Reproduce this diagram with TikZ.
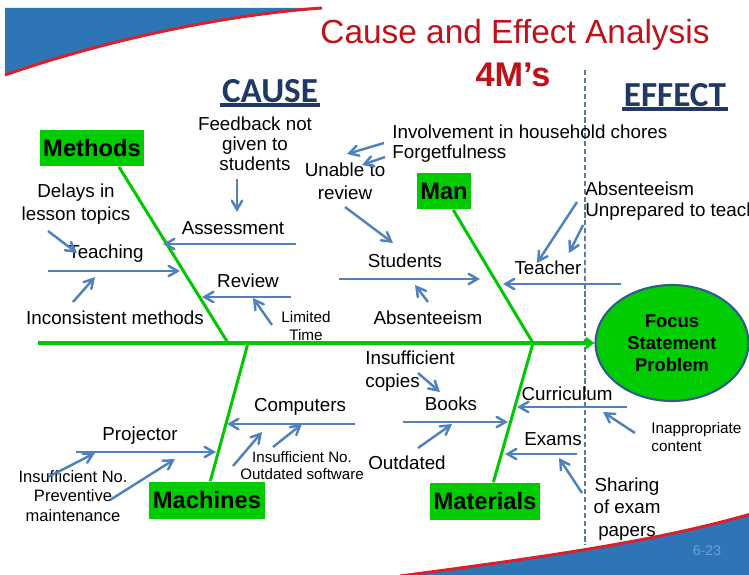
\documentclass[tikz,border=0pt]{standalone}
\usepackage{fontspec}
\setmainfont{Liberation Sans}
\newfontfamily\headfont{Carlito}
\usepackage{xcolor}
\usepackage{tikz}
\usetikzlibrary{arrows,arrows.meta,shapes.geometric}

\definecolor{bonegreen}{RGB}{0,200,0}
\definecolor{boxgreen}{RGB}{0,204,0}
\definecolor{arrowblue}{RGB}{79,129,189}
\definecolor{titlered}{RGB}{192,16,24}
\definecolor{headnavy}{RGB}{31,56,100}
\definecolor{swooshblue}{RGB}{46,117,182}
\definecolor{swooshred}{RGB}{218,32,44}
\definecolor{dashblue}{RGB}{90,120,160}
\definecolor{focusblue}{RGB}{50,90,140}
\definecolor{pagegray}{RGB}{110,160,210}

\begin{document}
\begin{tikzpicture}[
    x=0.02cm, y=-0.02cm,
    lbl/.style={font=\fontsize{10.7}{13}\selectfont, inner sep=0pt, align=center},
    small/.style={font=\fontsize{8.7}{10.2}\selectfont, inner sep=0pt, align=center},
    cat/.style={rectangle, fill=boxgreen, font=\bfseries\fontsize{13.5}{16}\selectfont, inner xsep=2pt, minimum height=0.74cm},
    head/.style={font=\headfont\bfseries\fontsize{20}{24}\selectfont, text=headnavy, inner sep=1pt},
    bone/.style={draw=bonegreen, line width=1.7pt},
    arrow/.style={->, >=angle 60, draw=arrowblue, line width=1.4pt}
]
    \useasboundingbox (0,0) rectangle (749,574);

    % Slide decoration
    \fill[swooshblue] (5,8) -- (322,8) .. controls (220,15) and (100,42) .. (5,75) -- cycle;
    \draw[swooshred, line width=1.7pt] (5,75) .. controls (100,42) and (220,15) .. (322,8);
    \fill[swooshblue] (400,576) .. controls (560,555) and (660,540) .. (751,514) -- (751,576) -- cycle;
    \draw[swooshred, line width=1.7pt] (400,576) .. controls (560,555) and (660,540) .. (751,514);
    \node[font=\fontsize{8}{10}\selectfont, text=pagegray] (pagenum) at (707,551) {6-23};

    % Headings
    \node[font=\fontsize{19}{22}\selectfont, text=titlered] (title) at (515,35) {Cause and Effect Analysis};
    \node[font=\bfseries\fontsize{19.5}{22}\selectfont, text=titlered] (fourm) at (513,75) {4M’s};
    \node[head] (cause) at (270,91) {CAUSE};
    \node[head] (effect) at (675,95) {EFFECT};
    \draw[headnavy, line width=2pt] (cause.south west) -- (cause.south east);
    \draw[headnavy, line width=2pt] (effect.south west) -- (effect.south east);

    % Cause / effect divider
    \coordinate (divtop) at (585,70);
    \coordinate (divbot) at (585,545);
    \draw[dashblue, line width=0.6pt, dash pattern=on 3pt off 1.5pt] (divtop) -- (divbot);

    % Head and spine
    \node[ellipse, fill=boxgreen, draw=focusblue, line width=1.2pt, minimum width=3.06cm, minimum height=2.32cm,
          align=center, font=\bfseries\fontsize{10.5}{12.5}\selectfont] (focus) at (672,343) {Focus\\Statement\\Problem};
    \coordinate (tail) at (38,343);
    \draw[bonegreen, line width=2.3pt, -{Triangle[length=5pt,width=7pt]}] (tail) -- (focus);

    % Categories
    \node[cat] (methods) at (92,148) {Methods};
    \node[cat] (man) at (444,191) {Man};
    \node[cat] (machines) at (207,500) {Machines};
    \node[cat] (materials) at (485,501) {Materials};

    \coordinate (jmeth) at (228,343);
    \coordinate (jman) at (533,343);
    \coordinate (jmach) at (248,343);
    \draw[bone] (methods.325) -- (jmeth);
    \draw[bone] (man.296) -- (jman);
    \draw[bone] (jmach) -- (machines.80);
    \draw[bone] (jman) -- (materials.66);

    % Methods
    \coordinate (assessR) at (296,244);  \coordinate (assessL) at (163,244);
    \coordinate (fbTail) at (237,179);   \coordinate (fbTip) at (237,212);
    \coordinate (teachL) at (48,271);    \coordinate (teachR) at (180,271);
    \coordinate (delTail) at (48,231);   \coordinate (delTip) at (77,253);
    \coordinate (incTail) at (73,302);   \coordinate (incTip) at (95,277);
    \coordinate (reviewR) at (291,297);  \coordinate (reviewL) at (202,297);
    \coordinate (limTail) at (272,325);  \coordinate (limTip) at (253,298);

    \node[lbl] (assess) at (233,228) {Assessment};
    \node[lbl, font=\fontsize{10.7}{11.3}\selectfont] (feedback) at (255,144) {Feedback not\\given to\\students};
    \node[lbl] (teaching) at (106,254) {Teaching};
    \node[lbl] (delays) at (76,204) {Delays in\\lesson topics};
    \node[lbl] (inconsist) at (115,318) {Inconsistent methods};
    \node[lbl] (review) at (248,281) {Review};
    \node[small] (limited) at (306,326) {Limited\\Time};

    \draw[arrow] (assessR) -- (assessL);
    \draw[arrow] (fbTail) -- (fbTip);
    \draw[arrow] (teachL) -- (teachR);
    \draw[arrow] (delTail) -- (delTip);
    \draw[arrow] (incTail) -- (incTip);
    \draw[arrow] (reviewR) -- (reviewL);
    \draw[arrow] (limTail) -- (limTip);

    % Man
    \coordinate (studL) at (339,279);    \coordinate (studR) at (480,279);
    \coordinate (unTail) at (345,207);   \coordinate (unTip) at (393,243);
    \coordinate (invTail) at (384,143);  \coordinate (invTip) at (347,154);
    \coordinate (fgTail) at (385,157);   \coordinate (fgTip) at (362,165);
    \coordinate (absTail) at (428,302);  \coordinate (absTip) at (415,285);
    \coordinate (teachrR) at (621,284);  \coordinate (teachrL) at (503,284);
    \coordinate (atTail) at (577,202);   \coordinate (atTip) at (537,263);
    \coordinate (upTail) at (583,225);   \coordinate (upTip) at (569,253);

    \node[lbl] (students) at (405,261) {Students};
    \node[lbl] (unable) at (345,181) {Unable to\\review};
    \node[lbl, anchor=west] (involve) at (392,132) {Involvement in household chores};
    \node[lbl, anchor=west] (forget) at (392,154) {Forgetfulness};
    \node[lbl] (absstud) at (428,318) {Absenteeism};
    \node[lbl] (teacher) at (548,268) {Teacher};
    \node[lbl, anchor=west] (absteach) at (585,189) {Absenteeism};
    \node[lbl, anchor=west] (unprep) at (585,212) {Unprepared to teach};

    \draw[arrow] (studL) -- (studR);
    \draw[arrow] (unTail) -- (unTip);
    \draw[arrow] (invTail) -- (invTip);
    \draw[arrow] (fgTail) -- (fgTip);
    \draw[arrow] (absTail) -- (absTip);
    \draw[arrow] (teachrR) -- (teachrL);
    \draw[arrow] (atTail) -- (atTip);
    \draw[arrow] (upTail) -- (upTip);

    % Machines
    \coordinate (projL) at (76,452);     \coordinate (projR) at (216,452);
    \coordinate (pinTail) at (48,477);   \coordinate (pinTip) at (95,453);
    \coordinate (pvTail) at (110,500);   \coordinate (pvTip) at (175,459);
    \coordinate (compR) at (355,424);    \coordinate (compL) at (227,424);
    \coordinate (cinTail) at (233,466);  \coordinate (cinTip) at (262,432);
    \coordinate (cswTail) at (273,447);  \coordinate (cswTip) at (302,424);

    \node[lbl] (projector) at (140,436) {Projector};
    \node[lbl, font=\fontsize{9.4}{11.3}\selectfont] (insuffproj) at (73,496) {Insufficient No.\\Preventive\\maintenance};
    \node[lbl] (computers) at (300,407) {Computers};
    \node[small, font=\fontsize{8.6}{9.6}\selectfont] (insuffcomp) at (302,466) {Insufficient No.\\Outdated software};

    \draw[arrow] (projL) -- (projR);
    \draw[arrow] (pinTail) -- (pinTip);
    \draw[arrow] (pvTail) -- (pvTip);
    \draw[arrow] (compR) -- (compL);
    \draw[arrow] (cinTail) -- (cinTip);
    \draw[arrow] (cswTail) -- (cswTip);

    % Materials
    \coordinate (bookL) at (403,422);    \coordinate (bookR) at (508,422);
    \coordinate (copTail) at (418,373);  \coordinate (copTip) at (440,392);
    \coordinate (outTail) at (418,448);  \coordinate (outTip) at (452,424);
    \coordinate (curR) at (627,407);     \coordinate (curL) at (517,407);
    \coordinate (inaTail) at (635,433);  \coordinate (inaTip) at (603,412);
    \coordinate (examR) at (577,454);    \coordinate (examL) at (505,454);
    \coordinate (shTail) at (582,493);   \coordinate (shTip) at (559,458);

    \node[lbl] (books) at (451,404) {Books};
    \node[lbl, align=left, anchor=west] (copies) at (365,371) {Insufficient\\copies};
    \node[lbl] (outdated) at (407,463) {Outdated};
    \node[lbl] (curric) at (567,394) {Curriculum};
    \node[small, align=left, anchor=west] (inapprop) at (651,437) {Inappropriate\\content};
    \node[lbl] (exams) at (553,439) {Exams};
    \node[lbl] (sharing) at (627,509) {Sharing\\of exam\\papers};

    \draw[arrow] (bookL) -- (bookR);
    \draw[arrow] (copTail) -- (copTip);
    \draw[arrow] (outTail) -- (outTip);
    \draw[arrow] (curR) -- (curL);
    \draw[arrow] (inaTail) -- (inaTip);
    \draw[arrow] (examR) -- (examL);
    \draw[arrow] (shTail) -- (shTip);
\end{tikzpicture}
\end{document}
